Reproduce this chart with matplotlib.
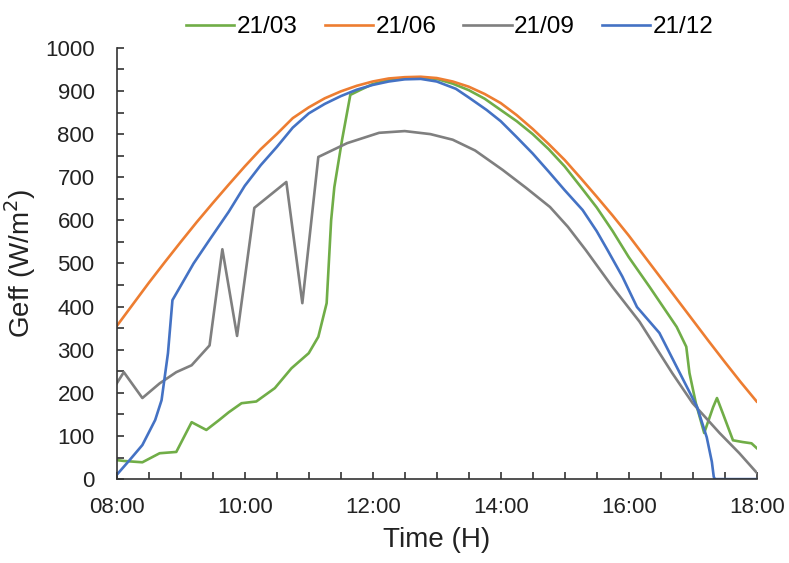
import matplotlib
matplotlib.use("Agg")
import matplotlib.pyplot as plt
from matplotlib.ticker import MultipleLocator

plt.rcParams['font.family'] = ['Liberation Sans', 'DejaVu Sans']

# ---- data (time in decimal hours, Geff in W/m2) ----
t_mar = [8.0, 8.12, 8.4, 8.67, 8.93, 9.17, 9.4, 9.6, 9.75, 9.95, 10.18, 10.47, 10.73, 11.0,
         11.15, 11.28, 11.35, 11.4, 11.52, 11.65, 11.8, 12.0, 12.25, 12.5, 12.75, 13.0, 13.25,
         13.5, 13.75, 14.0, 14.25, 14.5, 14.75, 15.0, 15.25, 15.5, 15.75, 16.0, 16.33, 16.75,
         16.9, 16.95, 17.05, 17.18, 17.32, 17.38, 17.47, 17.63, 17.78, 17.92, 18.0]
g_mar = [44, 42, 39, 60, 63, 132, 114, 137, 155, 176, 180, 211, 257, 292,
         330, 408, 600, 677, 786, 891, 902, 916, 925, 930, 931, 928, 917,
         902, 882, 856, 830, 800, 765, 725, 678, 630, 575, 515, 445, 353,
         307, 246, 176, 107, 167, 188, 153, 90, 86, 83, 72]

t_jun = [8.0, 8.25, 8.5, 8.75, 9.0, 9.25, 9.5, 9.75, 10.0, 10.25, 10.5, 10.75, 11.0, 11.25,
         11.5, 11.75, 12.0, 12.25, 12.5, 12.75, 13.0, 13.25, 13.5, 13.75, 14.0, 14.25, 14.5,
         14.75, 15.0, 15.25, 15.5, 15.75, 16.0, 16.25, 16.5, 16.75, 17.0, 17.25, 17.5, 17.75,
         18.0]
g_jun = [355, 405, 455, 503, 550, 596, 640, 683, 725, 765, 800, 837, 862, 883,
         899, 912, 922, 929, 932, 933, 930, 922, 910, 893, 872, 844, 812,
         777, 740, 698, 655, 611, 565, 516, 467, 418, 369, 320, 272, 225,
         180]

t_sep = [8.0, 8.11, 8.4, 8.67, 8.93, 9.17, 9.45, 9.65, 9.88, 10.15, 10.65, 10.9, 11.15,
         11.6, 12.1, 12.5, 12.9, 13.25, 13.6, 14.03, 14.4, 14.77, 15.05, 15.33, 15.75, 16.17,
         16.68, 17.0, 17.42, 17.73, 18.0]
g_sep = [222, 248, 188, 222, 248, 264, 310, 533, 332, 629, 689, 408, 747,
         779, 803, 807, 800, 787, 762, 717, 675, 631, 585, 531, 445, 365,
         246, 176, 107, 60, 15]

t_dec = [8.0, 8.2, 8.4, 8.6, 8.7, 8.8, 8.87, 9.08, 9.2, 9.45, 9.75, 10.0, 10.25, 10.5,
         10.75, 11.0, 11.25, 11.5, 11.75, 12.0, 12.25, 12.5, 12.75, 13.0, 13.3, 13.5, 13.78,
         14.0, 14.25, 14.5, 14.75, 15.0, 15.28, 15.5, 15.67, 15.9, 16.13, 16.48, 16.83,
         17.07, 17.22, 17.3, 17.33, 17.35, 18.0]
g_dec = [10, 44, 79, 137, 183, 292, 415, 469, 500, 555, 620, 680, 728, 770,
         815, 848, 870, 888, 903, 914, 922, 927, 928, 922, 905, 885, 856,
         830, 793, 755, 713, 670, 624, 575, 531, 470, 399, 339, 237,
         167, 97, 40, 5, 0, 0]

labels = ["21/03", "21/06", "21/09", "21/12"]
colors = ["#70AD47", "#ED7D31", "#7F7F7F", "#4472C4"]
xticks = [8, 10, 12, 14, 16, 18]
xticklabels = ["08:00", "10:00", "12:00", "14:00", "16:00", "18:00"]

fig = plt.figure(figsize=(7.89, 5.63), dpi=100)
ax = fig.add_axes([0.148, 0.149, 0.811, 0.766])

for t, g, lab, c in zip([t_mar, t_jun, t_sep, t_dec], [g_mar, g_jun, g_sep, g_dec], labels, colors):
    ax.plot(t, g, color=c, lw=1.9, label=lab, solid_joinstyle='round')

ax.set_xlim(8, 18)
ax.set_ylim(0, 1000)
ax.set_xticks(xticks)
ax.set_xticklabels(xticklabels)
ax.xaxis.set_minor_locator(MultipleLocator(0.5))
ax.yaxis.set_major_locator(MultipleLocator(100))
ax.yaxis.set_minor_locator(MultipleLocator(50))
ax.tick_params(which='both', direction='in', length=5, width=1.2, color='#333333',
               labelsize=16, labelcolor='#222222')
ax.tick_params(axis='x', pad=13)
ax.tick_params(axis='y', pad=16)
for s in ['top', 'right']:
    ax.spines[s].set_visible(False)
for s in ['left', 'bottom']:
    ax.spines[s].set_color('#333333')
    ax.spines[s].set_linewidth(1.2)

ax.set_xlabel("Time (H)", fontsize=20, color='#222222', labelpad=6)
ax.set_ylabel("Geff (W/m$^2$)", fontsize=20, color='#222222', labelpad=5)

fig.legend(loc='upper center', bbox_to_anchor=(0.57, 1.01), ncol=4, frameon=False,
           fontsize=17.5, handlelength=2.0, handletextpad=0.1, columnspacing=1.1)

fig.savefig("out.png", dpi=100)
